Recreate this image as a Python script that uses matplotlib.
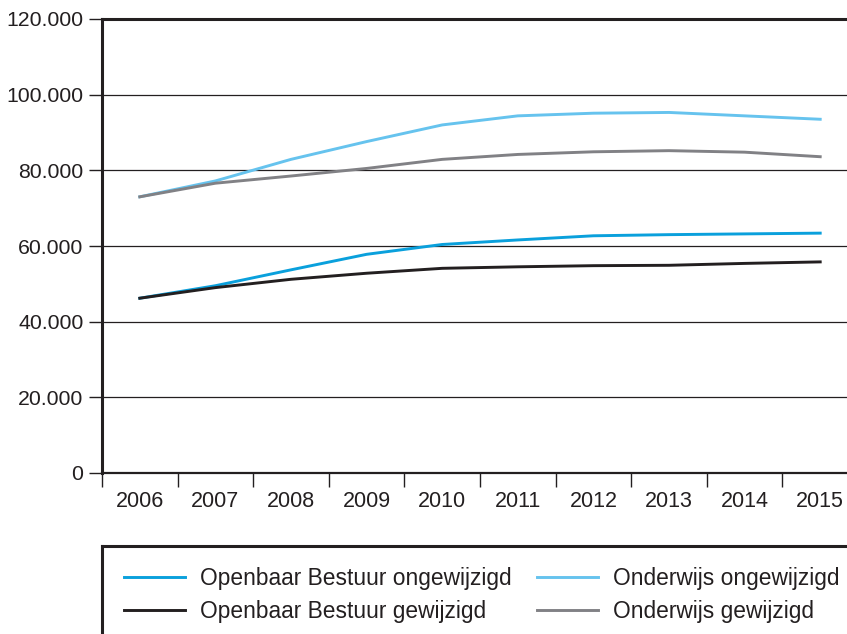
import matplotlib
matplotlib.use('Agg')
from matplotlib import pyplot as plt
from matplotlib.lines import Line2D
from matplotlib.ticker import FuncFormatter, FixedLocator

# data (aantallen)
jaren = ['2006', '2007', '2008', '2009', '2010', '2011', '2012', '2013', '2014', '2015']
ob_ongewijzigd = [46200, 49500, 53700, 57800, 60400, 61600, 62700, 63000, 63200, 63400]
ob_gewijzigd = [46200, 49000, 51200, 52800, 54100, 54500, 54800, 54900, 55400, 55800]
ow_ongewijzigd = [73000, 77200, 82900, 87600, 92000, 94400, 95100, 95300, 94400, 93500]
ow_gewijzigd = [73000, 76600, 78500, 80500, 82900, 84200, 84900, 85200, 84800, 83600]

plt.rcParams['font.family'] = ['Liberation Sans', 'DejaVu Sans']
W, H = 847, 634
fig = plt.figure(figsize=(W / 100, H / 100), dpi=100)

# assen lopen rechts door buiten het plaatje
ax = fig.add_axes([102 / W, (H - 473) / H, (858 - 102) / W, 454 / H])
x = list(range(len(jaren)))

kleur_zwart = '#231f20'
ax.plot(x, ob_ongewijzigd, color='#0aa0dc', lw=2.1, label='Openbaar Bestuur ongewijzigd')
ax.plot(x, ob_gewijzigd, color=kleur_zwart, lw=2.1, label='Openbaar Bestuur gewijzigd')
ax.plot(x, ow_ongewijzigd, color='#66c3ee', lw=2.1, label='Onderwijs ongewijzigd')
ax.plot(x, ow_gewijzigd, color='#818185', lw=2.1, label='Onderwijs gewijzigd')

ax.set_xlim(-0.5, len(jaren) - 0.5)
ax.set_ylim(0, 120000)
ax.set_yticks(range(0, 120001, 20000))
ax.yaxis.set_major_formatter(FuncFormatter(lambda v, p: f'{int(v):,}'.replace(',', '.')))
ax.grid(axis='y', color=kleur_zwart, lw=0.9)
ax.set_axisbelow(True)

# streepjes op de grenzen, jaartallen in het midden
ax.xaxis.set_major_locator(FixedLocator([i - 0.5 for i in x]))
ax.xaxis.set_minor_locator(FixedLocator(x))
ax.xaxis.set_major_formatter(FuncFormatter(lambda v, p: ''))
ax.set_xticklabels(jaren, minor=True)
ax.tick_params(axis='x', which='major', length=10, width=1, color=kleur_zwart)
ax.tick_params(axis='x', which='minor', length=0, pad=13, labelsize=15.5, labelcolor=kleur_zwart)
ax.tick_params(axis='y', length=9.5, width=1, color=kleur_zwart, pad=4, labelsize=15.3,
               labelcolor=kleur_zwart)

for s in ['left', 'top']:
    ax.spines[s].set_linewidth(2.2)
    ax.spines[s].set_color(kleur_zwart)
ax.spines['bottom'].set_linewidth(1.6)
ax.spines['bottom'].set_color(kleur_zwart)
ax.spines['right'].set_visible(False)

# legendakader (alleen boven en links zichtbaar)
lx, ly = 102 / W, (H - 546) / H
fig.add_artist(Line2D([lx, 1.05], [ly, ly], color=kleur_zwart, lw=2.2, solid_capstyle='projecting'))
fig.add_artist(Line2D([lx, lx], [ly, -0.05], color=kleur_zwart, lw=2.2, solid_capstyle='projecting'))

h, l = ax.get_legend_handles_labels()
fig.legend(h, l, ncol=2,
           loc='upper left', bbox_to_anchor=(124 / W, (H - 567) / H),
           frameon=False, fontsize=16.4, handlelength=2.68, handletextpad=0.66,
           columnspacing=1.1, labelspacing=0.42, borderpad=0, borderaxespad=0,
           labelcolor=kleur_zwart)

plt.savefig('out.png', dpi=100)
